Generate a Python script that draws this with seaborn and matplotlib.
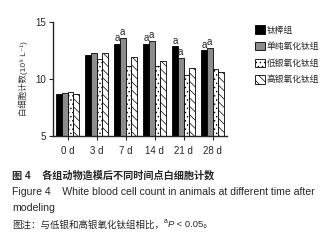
import numpy as np
import pandas as pd
import matplotlib
matplotlib.use("Agg")
import matplotlib.pyplot as plt
from matplotlib.text import Annotation
import seaborn as sns

# Data
days = ["0 d", "3 d", "7 d", "14 d", "21 d", "28 d"]
groups = ["钛棒组", "单纯氧化钛组", "低银氧化钛组", "高银氧化钛组"]
ti_rod = [8.72, 12.10, 13.05, 13.05, 12.85, 12.50]
pure_tio2 = [8.75, 12.30, 13.57, 13.36, 11.84, 12.70]
low_ag = [8.83, 11.72, 11.15, 11.15, 10.38, 10.85]
high_ag = [8.64, 12.25, 11.93, 11.60, 11.00, 10.60]
sig_days = ["7 d", "14 d", "21 d", "28 d"]
sig_groups = ["钛棒组", "单纯氧化钛组"]

df = pd.DataFrame({
    "day": days * 4,
    "group": np.repeat(groups, len(days)),
    "wbc": ti_rod + pure_tio2 + low_ag + high_ag,
})

sns.set_style("ticks")
plt.rcParams["font.family"] = ["Liberation Sans", "Noto Sans CJK SC", "DejaVu Sans"]
plt.rcParams["hatch.linewidth"] = 0.5

fig = plt.figure(figsize=(3.32, 2.46), dpi=100)
ax = fig.add_axes([0.16, 0.447, 0.524, 0.464])

colors = ["#000000", "#8c8c8c", "#ffffff", "#ffffff"]
hatches = [None, None, "....", "\\\\\\\\"]
sns.barplot(data=df, x="day", y="wbc", hue="group", order=days, hue_order=groups,
            palette=colors, edgecolor="black", linewidth=0.6, width=0.8,
            ax=ax, legend=True)

for cont, h in zip(ax.containers, hatches):
    for bar in cont:
        if h:
            bar.set_hatch(h)

# "a" significance marks above the first two groups
for gi, cont in enumerate(ax.containers):
    if groups[gi] not in sig_groups:
        continue
    for di, bar in enumerate(cont):
        if days[di] in sig_days:
            ax.text(bar.get_x() + bar.get_width() / 2, bar.get_height() + 0.08, "a",
                    ha="center", va="bottom", fontsize=7)

ax.set_ylim(5, 15)
ax.set_yticks([5, 10, 15])
ax.set_xlabel("")
ax.set_ylabel("白细胞计数(10⁹ L⁻¹)", fontsize=6, labelpad=5, color="#333333")
ax.tick_params(axis="both", labelsize=7, length=3, width=0.8, pad=2)
ax.tick_params(axis="x", pad=4)
for s in ["left", "bottom"]:
    ax.spines[s].set_linewidth(1.0)
sns.despine(ax=ax)

handles, labels = ax.get_legend_handles_labels()
for hd, h in zip(handles, hatches):
    if h:
        hd.set_hatch(h)
ax.legend(handles, labels, loc="upper left", bbox_to_anchor=(1.14, 1.0),
          frameon=False, fontsize=6.3, handlelength=1.2, handleheight=1.1,
          handletextpad=0.15, labelspacing=0.85, borderaxespad=0)

# caption
fig.text(0.036, 0.288, "图 4    各组动物造模后不同时间点白细胞计数", fontsize=7.3,
         fontweight="bold", va="center")
fig.text(0.036, 0.22, "Figure 4    White blood cell count in animals at different time after",
         fontsize=7.6, va="center")
fig.text(0.036, 0.155, "modeling", fontsize=7.6, va="center")
note = fig.text(0.036, 0.087, "图注：与低银和高银氧化钛组相比，", fontsize=6.8,
                va="center")
sup_a = Annotation("a", xy=(1, 0.45), xycoords=note, fontsize=5,
                   va="bottom", ha="left")
fig.add_artist(sup_a)
p_txt = Annotation("P", xy=(1, 0), xycoords=(sup_a, note), fontsize=6.8,
                   style="italic", va="bottom", ha="left")
fig.add_artist(p_txt)
rest = Annotation(" < 0.05。", xy=(1, 0), xycoords=(p_txt, note), fontsize=6.8,
                  va="bottom", ha="left")
fig.add_artist(rest)

fig.savefig("out.png", dpi=100)
